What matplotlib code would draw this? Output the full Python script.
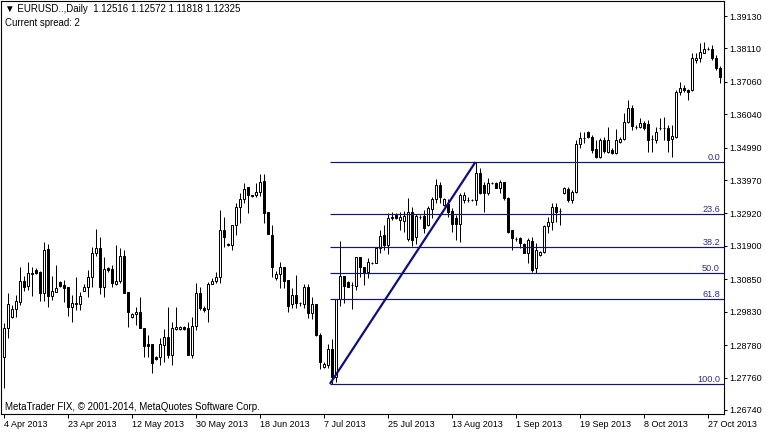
import matplotlib
matplotlib.use("Agg")
import matplotlib.pyplot as plt
import numpy as np

plt.rcParams['font.family'] = ['Liberation Sans', 'DejaVu Sans']

# ---------------- data (EURUSD daily) ----------------
opens = [
    1.2841, 1.2932, 1.2966, 1.2992, 1.3014, 1.3080, 1.3064, 1.3102, 1.3114, 1.3108,
    1.3042, 1.3180, 1.3032, 1.3045, 1.3076, 1.3067, 1.3061, 1.2998, 1.3007, 1.3007,
    1.3048, 1.3061, 1.3092, 1.3168, 1.3183, 1.3061, 1.3120, 1.3117, 1.3070, 1.3080,
    1.3158, 1.3045, 1.2966, 1.2976, 1.2982, 1.2932, 1.2881, 1.2881, 1.2841, 1.2841,
    1.2878, 1.2903, 1.2847, 1.2929, 1.2929, 1.2935, 1.2932, 1.2847, 1.2938, 1.3042,
    1.2995, 1.2992, 1.3070, 1.3080, 1.3092, 1.3240, 1.3196, 1.3193, 1.3256, 1.3312,
    1.3337, 1.3375, 1.3350, 1.3350, 1.3360, 1.3394, 1.3297, 1.3224, 1.3089, 1.3102,
    1.3124, 1.3083, 1.3007, 1.3036, 1.3010, 1.3007, 1.3061, 1.2979, 1.3007, 1.2910,
    1.2809, 1.2815, 1.2866, 1.2778, 1.3023, 1.3095, 1.3076, 1.3067, 1.3064, 1.3155,
    1.3124, 1.3108, 1.3136, 1.3136, 1.3183, 1.3224, 1.3193, 1.3281, 1.3287, 1.3271,
    1.3268, 1.3212, 1.3297, 1.3218, 1.3281, 1.3284, 1.3256, 1.3306, 1.3337, 1.3382,
    1.3319, 1.3322, 1.3300, 1.3278, 1.3259, 1.3334, 1.3334, 1.3334, 1.3334, 1.3419,
    1.3382, 1.3356, 1.3388, 1.3388, 1.3372, 1.3391, 1.3341, 1.3240, 1.3212, 1.3215,
    1.3196, 1.3168, 1.3205, 1.3120, 1.3161, 1.3171, 1.3253, 1.3265, 1.3312, 1.3300,
    1.3356, 1.3369, 1.3334, 1.3360, 1.3510, 1.3529, 1.3548, 1.3532, 1.3495, 1.3470,
    1.3523, 1.3485, 1.3492, 1.3482, 1.3517, 1.3526, 1.3580, 1.3624, 1.3564, 1.3564,
    1.3577, 1.3573, 1.3526, 1.3523, 1.3561, 1.3561, 1.3561, 1.3526, 1.3532, 1.3674,
    1.3687, 1.3680, 1.3680, 1.3775, 1.3781, 1.3797, 1.3809, 1.3809, 1.3781, 1.3750,
]
highs = [
    1.2947, 1.3042, 1.3004, 1.3036, 1.3124, 1.3095, 1.3139, 1.3124, 1.3120, 1.3111,
    1.3202, 1.3196, 1.3095, 1.3130, 1.3080, 1.3083, 1.3061, 1.3036, 1.3092, 1.3045,
    1.3070, 1.3114, 1.3187, 1.3243, 1.3218, 1.3155, 1.3124, 1.3130, 1.3193, 1.3183,
    1.3177, 1.3045, 1.2979, 1.2998, 1.3029, 1.2932, 1.2910, 1.2881, 1.2844, 1.2900,
    1.2929, 1.2998, 1.2951, 1.2998, 1.2938, 1.2938, 1.2951, 1.2966, 1.3073, 1.3061,
    1.3001, 1.3076, 1.3089, 1.3108, 1.3303, 1.3281, 1.3199, 1.3256, 1.3325, 1.3356,
    1.3388, 1.3375, 1.3350, 1.3388, 1.3416, 1.3416, 1.3297, 1.3256, 1.3111, 1.3139,
    1.3124, 1.3083, 1.3058, 1.3099, 1.3014, 1.3070, 1.3070, 1.3029, 1.3007, 1.2916,
    1.2825, 1.2881, 1.2897, 1.3023, 1.3205, 1.3095, 1.3080, 1.3076, 1.3155, 1.3155,
    1.3124, 1.3152, 1.3139, 1.3183, 1.3240, 1.3256, 1.3294, 1.3297, 1.3294, 1.3297,
    1.3300, 1.3341, 1.3312, 1.3290, 1.3287, 1.3303, 1.3316, 1.3344, 1.3400, 1.3391,
    1.3341, 1.3337, 1.3309, 1.3287, 1.3356, 1.3360, 1.3344, 1.3337, 1.3454, 1.3435,
    1.3391, 1.3404, 1.3391, 1.3391, 1.3397, 1.3391, 1.3344, 1.3240, 1.3218, 1.3218,
    1.3199, 1.3215, 1.3218, 1.3199, 1.3174, 1.3256, 1.3281, 1.3325, 1.3325, 1.3309,
    1.3375, 1.3375, 1.3366, 1.3523, 1.3548, 1.3548, 1.3551, 1.3539, 1.3523, 1.3529,
    1.3532, 1.3564, 1.3498, 1.3558, 1.3532, 1.3608, 1.3649, 1.3633, 1.3570, 1.3592,
    1.3583, 1.3586, 1.3539, 1.3564, 1.3592, 1.3595, 1.3570, 1.3570, 1.3680, 1.3705,
    1.3696, 1.3683, 1.3797, 1.3797, 1.3828, 1.3831, 1.3816, 1.3822, 1.3790, 1.3756,
]
lows = [
    1.2743, 1.2900, 1.2963, 1.2966, 1.3004, 1.3048, 1.3051, 1.3032, 1.3102, 1.3017,
    1.3017, 1.2998, 1.3020, 1.3045, 1.3061, 1.3014, 1.2970, 1.2951, 1.2988, 1.2988,
    1.3048, 1.3029, 1.3061, 1.3158, 1.3039, 1.3029, 1.3108, 1.3061, 1.3067, 1.3073,
    1.3042, 1.2935, 1.2963, 1.2941, 1.2932, 1.2841, 1.2841, 1.2790, 1.2831, 1.2815,
    1.2825, 1.2837, 1.2815, 1.2925, 1.2925, 1.2925, 1.2847, 1.2837, 1.2925, 1.2988,
    1.2982, 1.2951, 1.3070, 1.3073, 1.3073, 1.3187, 1.3190, 1.3177, 1.3224, 1.3262,
    1.3325, 1.3294, 1.3344, 1.3344, 1.3347, 1.3262, 1.3227, 1.3092, 1.3083, 1.3058,
    1.3058, 1.2982, 1.2995, 1.2995, 1.3001, 1.2995, 1.2963, 1.2960, 1.2907, 1.2803,
    1.2806, 1.2806, 1.2756, 1.2762, 1.3001, 1.3010, 1.3061, 1.2992, 1.3051, 1.3092,
    1.3067, 1.3089, 1.3133, 1.3136, 1.3168, 1.3177, 1.3164, 1.3271, 1.3275, 1.3240,
    1.3234, 1.3205, 1.3190, 1.3196, 1.3275, 1.3231, 1.3253, 1.3278, 1.3325, 1.3325,
    1.3316, 1.3281, 1.3234, 1.3209, 1.3202, 1.3325, 1.3328, 1.3331, 1.3319, 1.3353,
    1.3297, 1.3350, 1.3385, 1.3372, 1.3356, 1.3334, 1.3231, 1.3177, 1.3205, 1.3183,
    1.3168, 1.3136, 1.3108, 1.3105, 1.3158, 1.3168, 1.3231, 1.3240, 1.3265, 1.3256,
    1.3353, 1.3328, 1.3325, 1.3356, 1.3498, 1.3514, 1.3529, 1.3482, 1.3467, 1.3467,
    1.3482, 1.3482, 1.3479, 1.3480, 1.3514, 1.3523, 1.3577, 1.3555, 1.3558, 1.3561,
    1.3555, 1.3485, 1.3485, 1.3514, 1.3555, 1.3523, 1.3485, 1.3470, 1.3529, 1.3665,
    1.3674, 1.3649, 1.3677, 1.3765, 1.3768, 1.3796, 1.3806, 1.3775, 1.3743, 1.3702,
]
closes = [
    1.2932, 1.3007, 1.2992, 1.3017, 1.3080, 1.3061, 1.3105, 1.3105, 1.3105, 1.3042,
    1.3177, 1.3032, 1.3048, 1.3058, 1.3064, 1.3058, 1.2998, 1.3010, 1.3010, 1.3032,
    1.3061, 1.3092, 1.3168, 1.3183, 1.3061, 1.3117, 1.3114, 1.3073, 1.3080, 1.3158,
    1.3042, 1.2982, 1.2976, 1.2982, 1.2932, 1.2875, 1.2875, 1.2822, 1.2834, 1.2881,
    1.2903, 1.2847, 1.2932, 1.2935, 1.2935, 1.2929, 1.2847, 1.2938, 1.3042, 1.2995,
    1.2988, 1.3070, 1.3080, 1.3092, 1.3240, 1.3218, 1.3193, 1.3256, 1.3312, 1.3337,
    1.3369, 1.3350, 1.3347, 1.3360, 1.3391, 1.3294, 1.3227, 1.3124, 1.3102, 1.3124,
    1.3080, 1.3001, 1.3036, 1.3010, 1.3011, 1.3061, 1.2979, 1.3007, 1.2910, 1.2825,
    1.2819, 1.2866, 1.2778, 1.3023, 1.3095, 1.3064, 1.3061, 1.3068, 1.3155, 1.3124,
    1.3105, 1.3139, 1.3137, 1.3183, 1.3221, 1.3193, 1.3278, 1.3278, 1.3278, 1.3281,
    1.3284, 1.3297, 1.3209, 1.3284, 1.3282, 1.3246, 1.3309, 1.3337, 1.3382, 1.3344,
    1.3337, 1.3297, 1.3259, 1.3259, 1.3350, 1.3350, 1.3335, 1.3335, 1.3419, 1.3356,
    1.3356, 1.3388, 1.3389, 1.3372, 1.3391, 1.3341, 1.3234, 1.3215, 1.3211, 1.3199,
    1.3168, 1.3209, 1.3114, 1.3177, 1.3171, 1.3253, 1.3265, 1.3312, 1.3297, 1.3299,
    1.3372, 1.3334, 1.3360, 1.3510, 1.3529, 1.3530, 1.3532, 1.3492, 1.3470, 1.3523,
    1.3488, 1.3523, 1.3482, 1.3523, 1.3526, 1.3580, 1.3624, 1.3567, 1.3565, 1.3577,
    1.3561, 1.3523, 1.3525, 1.3548, 1.3562, 1.3562, 1.3523, 1.3536, 1.3674, 1.3687,
    1.3680, 1.3674, 1.3781, 1.3781, 1.3800, 1.3809, 1.3810, 1.3781, 1.3750, 1.3721,
]

date_labels = ["4 Apr 2013", "23 Apr 2013", "12 May 2013", "30 May 2013",
               "18 Jun 2013", "7 Jul 2013", "25 Jul 2013", "13 Aug 2013",
               "1 Sep 2013", "19 Sep 2013", "8 Oct 2013", "27 Oct 2013"]
bars_per_label = 16

price_ticks = [1.39130, 1.38110, 1.37060, 1.36040, 1.34990, 1.33970, 1.32920,
               1.31900, 1.30850, 1.29830, 1.28780, 1.27760, 1.26740]

fib_levels = [0.0, 23.6, 38.2, 50.0, 61.8, 100.0]
fib_low_bar = 82
fib_high_bar = 118

header_text = "\u25bc EURUSD..,Daily  1.12516 1.12572 1.11818 1.12325"
spread_text = "Current spread: 2"
footer_text = "MetaTrader FIX, \u00a9 2001-2014, MetaQuotes Software Corp."

# ---------------- layout ----------------
W, H = 766, 432
fig = plt.figure(figsize=(W / 100, H / 100), dpi=100)
fig.patch.set_facecolor("white")
ax = fig.add_axes([1 / W, 1 - 414 / H, 723 / W, 413 / H])
ax.set_facecolor("white")

n = len(opens)
idx = np.arange(n)
o = np.array(opens)
c = np.array(closes)
h = np.array(highs)
l = np.array(lows)
up = c >= o

lw1 = 0.72
ax.vlines(idx, l, h, color="black", lw=lw1, zorder=2)
ax.bar(idx, np.abs(c - o), bottom=np.minimum(o, c), width=0.5,
       color=np.where(up, "white", "black"), edgecolor="black",
       linewidth=lw1, zorder=3)

ax.set_xlim(-0.625, 180.125)
ax.set_ylim(1.26613, 1.39602)

# Fibonacci retracement
fib_color = "#14147e"
label_color = "#2b2b9c"
lo = lows[fib_low_bar]
hi = highs[fib_high_bar]
x_right = ax.get_xlim()[1]
for lvl in fib_levels:
    y = hi - (hi - lo) * lvl / 100.0
    ax.hlines(y, fib_low_bar - 0.4, x_right, color=fib_color, lw=0.85, zorder=4)
    ax.text(179.1, y, f"{lvl:.1f}", ha="right", va="bottom",
            color=label_color, fontsize=6.6, zorder=6)
ax.plot([fib_low_bar - 0.4, fib_high_bar], [lo, hi], color="#0c0c8c",
        lw=1.6, zorder=5, solid_capstyle="butt")

# axes styling
for s in ax.spines.values():
    s.set_linewidth(0.8)
    s.set_color("black")

ax.yaxis.tick_right()
ax.set_yticks(price_ticks)
ax.set_yticklabels([f"{p:.5f}" for p in price_ticks])
ax.tick_params(axis="y", direction="out", length=2.5, width=0.75,
               pad=1.5, labelsize=6.5, colors="black")

ax.set_xticks(np.arange(len(date_labels)) * bars_per_label)
ax.set_xticklabels(date_labels, ha="left")
ax.tick_params(axis="x", direction="out", length=3, width=0.75,
               pad=1.2, labelsize=6.5, colors="black")

# texts
fig.text(5 / W, 1 - 9 / H, header_text, fontsize=7.0, va="center", ha="left")
fig.text(5 / W, 1 - 23 / H, spread_text, fontsize=6.9, va="center", ha="left")
fig.text(5 / W, 1 - 407 / H, footer_text, fontsize=7.0, va="center", ha="left")

fig.savefig("out.png", dpi=100, facecolor="white")
